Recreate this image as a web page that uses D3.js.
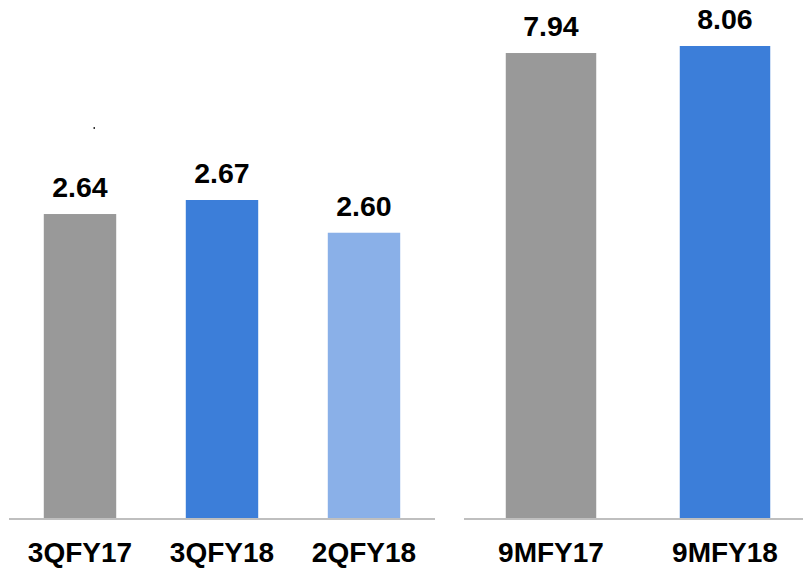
<!DOCTYPE html>
<html>
<head>
<meta charset="utf-8">
<script src="https://cdn.jsdelivr.net/npm/d3@7"></script>
<style>
  body { margin: 0; background: #fff; }
  svg { display: block; }
  .value-label, .cat-label {
    font-family: "Liberation Sans", Arial, sans-serif;
    font-weight: bold;
    fill: #000;
    text-anchor: middle;
  }
  .value-label { font-size: 28.5px; }
  .cat-label { font-size: 28px; }
</style>
</head>
<body>
<div id="chart"></div>
<script>
// quarter panel
var quarterCats = ["3QFY17", "3QFY18", "2QFY18"];
var quarterVals = [2.64, 2.67, 2.60];
var quarterColors = ["#999999", "#3c7ed9", "#8ab0e8"];

// nine-month panel
var ninemCats = ["9MFY17", "9MFY18"];
var ninemVals = [7.94, 8.06];
var ninemColors = ["#999999", "#3c7ed9"];

var width = 803, height = 569;
var baseY = 518;

var svg = d3.select("#chart").append("svg")
  .attr("width", width)
  .attr("height", height);

function drawPanel(cats, vals, colors, xRange, yDomain, yTop, pad) {
  var x = d3.scaleBand()
    .domain(cats)
    .range(xRange)
    .paddingInner(pad)
    .paddingOuter(pad / 2);

  var y = d3.scaleLinear()
    .domain(yDomain)
    .range([baseY, yTop]);

  var g = svg.append("g");

  g.selectAll("rect")
    .data(vals)
    .enter()
    .append("rect")
    .attr("x", function(d, i) { return x(cats[i]); })
    .attr("width", x.bandwidth())
    .attr("y", function(d) { return y(d); })
    .attr("height", function(d) { return baseY - y(d); })
    .attr("fill", function(d, i) { return colors[i]; });

  g.selectAll(".value-label")
    .data(vals)
    .enter()
    .append("text")
    .attr("class", "value-label")
    .attr("x", function(d, i) { return x(cats[i]) + x.bandwidth() / 2; })
    .attr("y", function(d) { return y(d) - 17; })
    .text(function(d) { return d3.format(".2f")(d); });

  g.append("line")
    .attr("x1", xRange[0])
    .attr("x2", xRange[1])
    .attr("y1", baseY + 1)
    .attr("y2", baseY + 1)
    .attr("stroke", "#bfbfbf")
    .attr("stroke-width", 2);

  g.selectAll(".cat-label")
    .data(cats)
    .enter()
    .append("text")
    .attr("class", "cat-label")
    .attr("x", function(d) { return x(d) + x.bandwidth() / 2; })
    .attr("y", 562)
    .text(function(d) { return d; });
}

drawPanel(quarterCats, quarterVals, quarterColors, [9, 435], [1.99, 2.67], 200, 0.49);
drawPanel(ninemCats, ninemVals, ninemColors, [464, 812], [0, 8.06], 46, 0.48);

// small stray mark present in the source
svg.append("rect")
  .attr("x", 93.5)
  .attr("y", 127)
  .attr("width", 1.5)
  .attr("height", 2)
  .attr("fill", "#333");
</script>
</body>
</html>
